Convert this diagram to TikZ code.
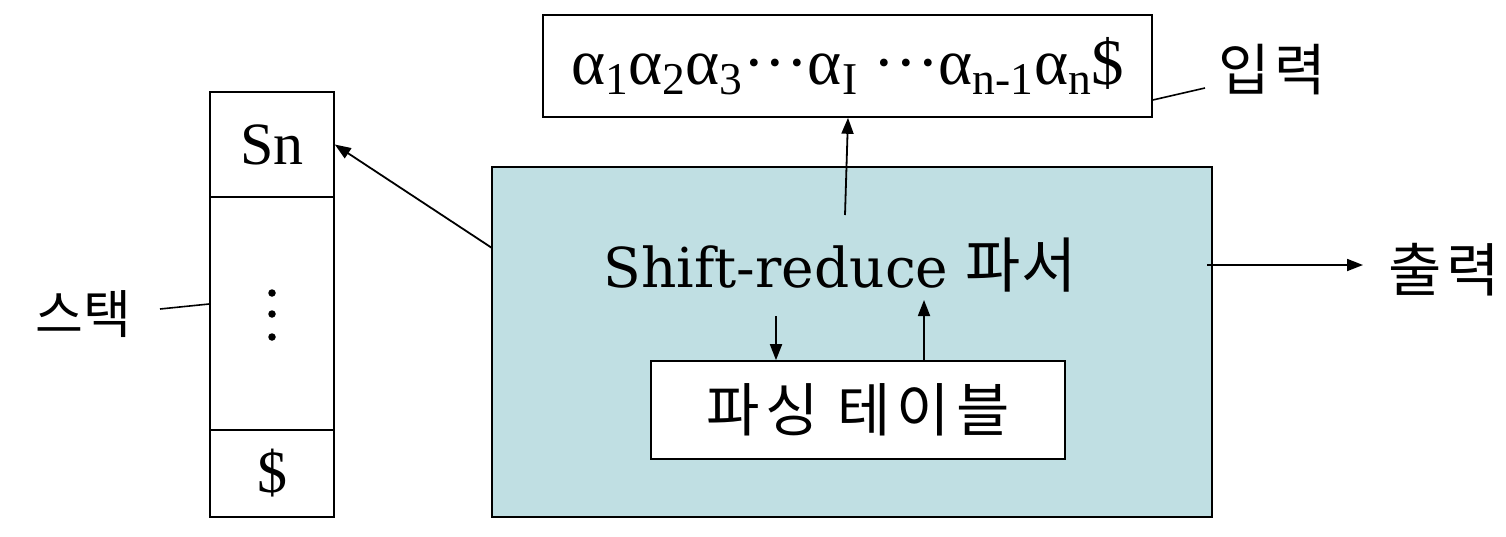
\documentclass[tikz,border=0pt]{standalone}
\usepackage{fix-cm}
\usepackage{fontspec}
\setmainfont{Liberation Serif}
\newfontfamily\kr{Noto Sans CJK KR}
\newfontfamily\krwide[LetterSpace=8]{Noto Sans CJK KR}
\newfontfamily\krtable[LetterSpace=10]{Noto Sans CJK KR}
\newfontfamily\serifwide{DejaVu Serif}
\usetikzlibrary{arrows.meta}
\definecolor{parserfill}{RGB}{192,223,227}
\tikzset{
  boxline/.style={draw=black, line width=1.6pt},
  cell/.style={boxline, rectangle, inner sep=0pt, minimum width=124pt},
  conn/.style={line width=1.8pt, -{Triangle[length=16pt,width=12pt]}},
  plain/.style={line width=1.6pt},
  lbl/.style={inner sep=0pt, font=\krwide\fontsize{56}{60}\selectfont},
  stackdot/.style={circle, fill=black, inner sep=0pt, minimum size=7.5pt},
}
\newcommand{\asub}[1]{α\textsubscript{#1}}
\begin{document}
\begin{tikzpicture}[x=1pt,y=-1pt]
\useasboundingbox (0,0) rectangle (1506,536);
% stack
\node[cell, minimum height=105pt, font=\fontsize{60}{70}\selectfont] (stacktop) at (272,144.5) {Sn};
\node[cell, minimum height=233pt] (stackmid) at (272,313.5) {};
\node[stackdot] (dota) at (272,293) {};
\node[stackdot] (dotb) at (272,314) {};
\node[stackdot] (dotc) at (272,337) {};
\node[cell, minimum height=87pt, font=\fontsize{60}{70}\selectfont] (stackbot) at (272,473.5) {\$};
\node[inner sep=0pt, font=\kr\fontsize{52}{60}\selectfont] (stacklbl) at (83,314) {스택};
\coordinate (stackhook) at (160,309);
\draw[plain] (stackhook) -- (stackmid.west |- 0,304);
% input
\node[boxline, rectangle, minimum width=609pt, minimum height=102pt, inner sep=0pt,
      font=\fontsize{65}{60}\selectfont] (inbox) at (847.5,66)
  {\asub{1}\asub{2}\asub{3}···\asub{I} ···\asub{n-1}\asub{n}\$};
\node[lbl, anchor=west] (inlbl) at (1218,70) {입력};
\coordinate (inhook) at (1205,88);
\draw[plain] (inbox.east |- 0,100) -- (inhook);
% parser
\node[boxline, fill=parserfill, rectangle, minimum width=720pt, minimum height=350pt, inner sep=0pt] (main) at (852,342) {};
\node[inner sep=0pt, font=\serifwide\fontsize{55}{60}\selectfont] (parser) at (840,265) {Shift-reduce {\kr\fontsize{60}{60}\selectfont 파서}};
\node[boxline, fill=white, rectangle, minimum width=414pt, minimum height=98pt, inner sep=0pt,
      font=\krtable\fontsize{58}{60}\selectfont] (table) at (858,410) {파싱 테이블};
% arrows
\coordinate (upstart) at (845,215);
\draw[conn] (upstart) -- (inbox.south -| 848,0);
\coordinate (stackstart) at (492,248);
\draw[conn] (stackstart) -- (stacktop.east);
\coordinate (downstart) at (776,316);
\draw[conn] (downstart) -- (table.north -| 776,0);
\coordinate (uptip) at (924,300);
\draw[conn] (table.north -| 924,0) -- (uptip);
\coordinate (outstart) at (1207,265);
\node[lbl, anchor=west, font=\krwide\fontsize{58}{60}\selectfont] (outlbl) at (1388,270) {출력};
\draw[conn] (outstart) -- (1363,265);
\end{tikzpicture}
\end{document}
